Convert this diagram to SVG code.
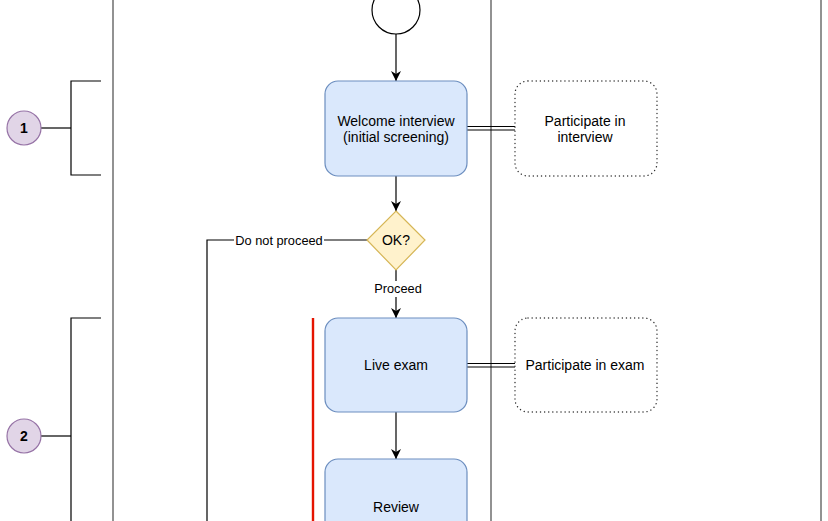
<svg xmlns="http://www.w3.org/2000/svg" width="828" height="521" viewBox="0 0 828 521">
<style>
text{font-family:"Liberation Sans",Arial,sans-serif;fill:#000;text-anchor:middle}
.t{font-size:14px}
.lbl{font-size:12.8px}
.num{font-size:14px;font-weight:bold}
.task{fill:#dae8fc;stroke:#6c8ebf;stroke-width:1.2}
.note{fill:#fff;stroke:#333;stroke-width:1.4;stroke-dasharray:0.1 4;stroke-linecap:round}
.lane{stroke:#777;stroke-width:1.6;fill:none}
.ln{stroke:#000;stroke-width:1.2;fill:none}
.br{stroke:#000;stroke-width:1.2;fill:none}
.mk{fill:#e1d5e7;stroke:#9673a6;stroke-width:1.2}
</style>
<defs>
<marker id="arr" viewBox="0 0 10 10" refX="10" refY="5" markerWidth="10" markerHeight="10" markerUnits="userSpaceOnUse" orient="auto">
<path d="M0,0 L10,5 L0,10 L3,5 Z" fill="#000"/>
</marker>
</defs>
<rect width="828" height="521" fill="#fff"/>
<g id="lanes">
<line class="lane" x1="113" y1="0" x2="113" y2="521"/>
<line class="lane" x1="491" y1="0" x2="491" y2="521"/>
<line class="lane" x1="821" y1="0" x2="821" y2="521"/>
</g>
<g id="connectors">
<line class="ln" x1="396" y1="34" x2="396" y2="81" marker-end="url(#arr)"/>
<line class="ln" x1="396" y1="176" x2="396" y2="211" marker-end="url(#arr)"/>
<polyline class="ln" points="367,240 207,240 207,521"/>
<rect x="234" y="232" width="90" height="16" fill="#fff"/>
<text class="lbl" x="279" y="245">Do not proceed</text>
<line class="ln" x1="396" y1="270" x2="396" y2="318" marker-end="url(#arr)"/>
<rect x="372" y="281" width="52" height="16" fill="#fff"/>
<text class="lbl" x="398" y="293">Proceed</text>
<line class="ln" x1="396" y1="412" x2="396" y2="459" marker-end="url(#arr)"/>
<line class="ln" x1="467" y1="126.5" x2="515" y2="126.5"/>
<line class="ln" x1="467" y1="130" x2="515" y2="130"/>
<line class="ln" x1="467" y1="363.5" x2="515" y2="363.5"/>
<line class="ln" x1="467" y1="367" x2="515" y2="367"/>
<line x1="313" y1="318" x2="313" y2="521" stroke="#e51400" stroke-width="2.4"/>
<line class="ln" x1="41" y1="128" x2="71" y2="128" stroke="#555"/>
<polyline class="br" points="101,81 71,81 71,175 101,175"/>
<line class="ln" x1="41" y1="436" x2="71" y2="436" stroke="#555"/>
<polyline class="br" points="101,318 71,318 71,521"/>
</g>
<g id="start">
<circle cx="396" cy="10" r="24" fill="#fff" stroke="#000" stroke-width="1.2"/>
</g>
<g id="welcome">
<rect class="task" x="325" y="81" width="142" height="95" rx="13"/>
<text class="t" x="396" y="126">Welcome interview</text>
<text class="t" x="396" y="142">(initial screening)</text>
</g>
<g id="ok">
<polygon points="396,211 425,240 396,270 367,240" fill="#fff2cc" stroke="#d6b656" stroke-width="1.2"/>
<text class="t" x="396" y="245">OK?</text>
</g>
<g id="live">
<rect class="task" x="325" y="318" width="142" height="94" rx="13"/>
<text class="t" x="396" y="370">Live exam</text>
</g>
<g id="review">
<rect class="task" x="325" y="459" width="142" height="94" rx="13"/>
<text class="t" x="396" y="512">Review</text>
</g>
<g id="p-interview">
<rect class="note" x="515" y="81" width="142" height="95" rx="13"/>
<text class="t" x="585" y="126">Participate in</text>
<text class="t" x="585" y="142">interview</text>
</g>
<g id="p-exam">
<rect class="note" x="515" y="318" width="142" height="94" rx="13"/>
<text class="t" x="585" y="370">Participate in exam</text>
</g>
<g id="m1">
<circle class="mk" cx="24" cy="128" r="17"/>
<text class="num" x="24" y="133">1</text>
</g>
<g id="m2">
<circle class="mk" cx="24" cy="436" r="17"/>
<text class="num" x="24" y="441">2</text>
</g>
</svg>
